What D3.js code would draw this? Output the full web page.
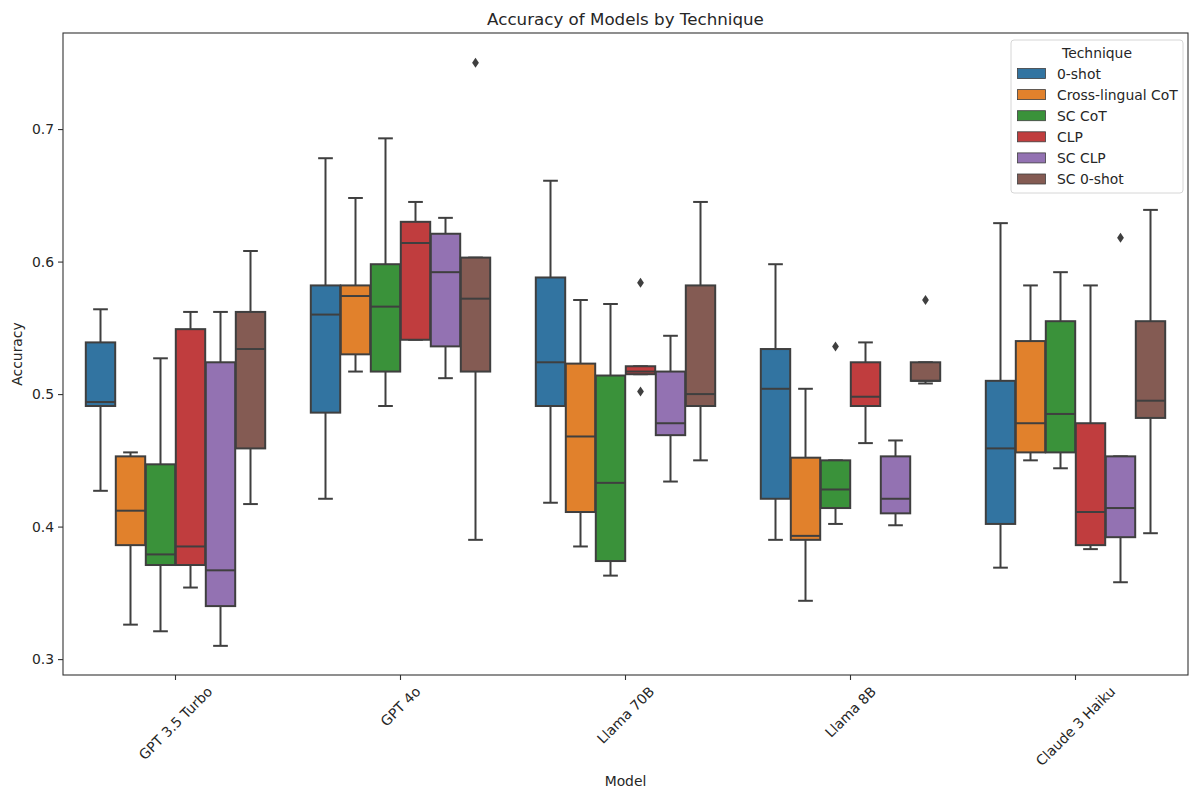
<!DOCTYPE html>
<html>
<head>
<meta charset="utf-8">
<script src="https://cdn.jsdelivr.net/npm/d3@7"></script>
<style>
  body { margin: 0; background: #fff; }
  text { font-family: "DejaVu Sans", sans-serif; fill: #262626; }
</style>
</head>
<body>
<div id="chart"></div>
<script>
// models on the x axis, techniques as hue
const models = ["GPT 3.5 Turbo", "GPT 4o", "Llama 70B", "Llama 8B", "Claude 3 Haiku"]
const techniques = ["0-shot", "Cross-lingual CoT", "SC CoT", "CLP", "SC CLP", "SC 0-shot"]
const colors = ["#3274a1", "#e1812c", "#3a923a", "#c03d3e", "#9372b2", "#845b53"]

// per model: [whisker low, Q1, median, Q3, whisker high]
const zeroShot = [[0.427, 0.491, 0.494, 0.539, 0.564], [0.421, 0.486, 0.560, 0.582, 0.678], [0.418, 0.491, 0.524, 0.588, 0.661], [0.390, 0.421, 0.504, 0.534, 0.598], [0.369, 0.402, 0.459, 0.510, 0.629]]
const crossCoT = [[0.326, 0.386, 0.412, 0.453, 0.456], [0.517, 0.530, 0.574, 0.582, 0.648], [0.385, 0.411, 0.468, 0.523, 0.571], [0.344, 0.390, 0.393, 0.452, 0.504], [0.450, 0.456, 0.478, 0.540, 0.582]]
const scCoT = [[0.321, 0.371, 0.379, 0.447, 0.527], [0.491, 0.517, 0.566, 0.598, 0.693], [0.363, 0.374, 0.433, 0.514, 0.568], [0.402, 0.414, 0.428, 0.450, 0.450], [0.444, 0.456, 0.485, 0.555, 0.592]]
const clp = [[0.354, 0.371, 0.385, 0.549, 0.562], [0.541, 0.541, 0.614, 0.630, 0.645], [0.515, 0.515, 0.517, 0.521, 0.521], [0.463, 0.491, 0.498, 0.524, 0.539], [0.383, 0.386, 0.411, 0.478, 0.582]]
const scClp = [[0.310, 0.340, 0.367, 0.524, 0.562], [0.512, 0.536, 0.592, 0.621, 0.633], [0.434, 0.469, 0.478, 0.517, 0.544], [0.401, 0.410, 0.421, 0.453, 0.465], [0.358, 0.392, 0.414, 0.453, 0.453]]
const scZero = [[0.417, 0.459, 0.534, 0.562, 0.608], [0.390, 0.517, 0.572, 0.603, 0.603], [0.450, 0.491, 0.500, 0.582, 0.645], [0.508, 0.510, 0.510, 0.524, 0.524], [0.395, 0.482, 0.495, 0.555, 0.639]]
const seriesStats = [zeroShot, crossCoT, scCoT, clp, scClp, scZero]

// outliers: [model, technique, value]
const outliers = [
    ["GPT 4o", "SC 0-shot", 0.750],
    ["Llama 70B", "CLP", 0.584],
    ["Llama 70B", "CLP", 0.502],
    ["Llama 8B", "SC CoT", 0.536],
    ["Llama 8B", "SC 0-shot", 0.571],
    ["Claude 3 Haiku", "SC CLP", 0.618]
]
const yTicks = [0.3, 0.4, 0.5, 0.6, 0.7]

const W = 1189, H = 793
const margin = { top: 33, right: 1, bottom: 118, left: 63 }
const lineColor = "#3f3f3f"

let svg = d3.select('#chart').append('svg')
    .attr('width', W)
    .attr('height', H)

let x = d3.scaleBand()
    .domain(models)
    .range([margin.left, W - margin.right])

let hue = d3.scaleBand()
    .domain(techniques)
    .range([x.bandwidth() * 0.1, x.bandwidth() * 0.9])

let y = d3.scaleLinear()
    .domain([0.288, 0.7725])
    .range([H - margin.bottom, margin.top])

let boxW = hue.bandwidth() * 0.98
let capW = boxW * 0.5

// flatten for drawing
let boxes = []
techniques.forEach(function (t, j) {
    models.forEach(function (m, i) {
        let s = seriesStats[j][i]
        boxes.push({ model: m, tech: t, color: colors[j], lo: s[0], q1: s[1], med: s[2], q3: s[3], hi: s[4] })
    })
})

let g = svg.append('g')

boxes.forEach(function (d) {
    let cx = x(d.model) + hue(d.tech) + hue.bandwidth() / 2
    let bg = g.append('g')
    // whiskers
    bg.append('line').attr('x1', cx).attr('x2', cx).attr('y1', y(d.q3)).attr('y2', y(d.hi))
    bg.append('line').attr('x1', cx).attr('x2', cx).attr('y1', y(d.q1)).attr('y2', y(d.lo))
    bg.append('line').attr('x1', cx - capW / 2).attr('x2', cx + capW / 2).attr('y1', y(d.hi)).attr('y2', y(d.hi))
    bg.append('line').attr('x1', cx - capW / 2).attr('x2', cx + capW / 2).attr('y1', y(d.lo)).attr('y2', y(d.lo))
    bg.selectAll('line').attr('stroke', lineColor).attr('stroke-width', 2)
    bg.append('rect')
        .attr('x', cx - boxW / 2)
        .attr('width', boxW)
        .attr('y', y(d.q3))
        .attr('height', Math.max(0.5, y(d.q1) - y(d.q3)))
        .attr('fill', d.color)
        .attr('stroke', lineColor)
        .attr('stroke-width', 2)
    bg.append('line')
        .attr('x1', cx - boxW / 2).attr('x2', cx + boxW / 2)
        .attr('y1', y(d.med)).attr('y2', y(d.med))
        .attr('stroke', lineColor).attr('stroke-width', 2)
})

// outlier diamonds
g.selectAll('.flier')
    .data(outliers)
    .enter()
    .append('path')
    .attr('d', 'M0,-5L3.4,0L0,5L-3.4,0Z')
    .attr('transform', function (d) {
        return 'translate(' + (x(d[0]) + hue(d[1]) + hue.bandwidth() / 2) + ',' + y(d[2]) + ')'
    })
    .attr('fill', lineColor)

// axes frame
svg.append('rect')
    .attr('x', margin.left).attr('y', margin.top)
    .attr('width', W - margin.right - margin.left)
    .attr('height', H - margin.bottom - margin.top)
    .attr('fill', 'none').attr('stroke', '#333').attr('stroke-width', 1.1)

// y axis
let yAxis = svg.append('g')
    .attr('transform', 'translate(' + margin.left + ',0)')
    .call(d3.axisLeft(y).tickValues(yTicks).tickFormat(d3.format('.1f')).tickSize(5).tickPadding(4))
yAxis.select('.domain').remove()
yAxis.selectAll('.tick line').attr('stroke', '#333').attr('stroke-width', 1.1)
yAxis.selectAll('.tick text').style('font-size', '13.9px').attr('fill', '#262626')

// x axis
let xAxis = svg.append('g')
    .attr('transform', 'translate(0,' + (H - margin.bottom) + ')')
    .call(d3.axisBottom(x).tickSize(5).tickFormat(''))
xAxis.select('.domain').remove()
xAxis.selectAll('.tick line').attr('stroke', '#333').attr('stroke-width', 1.1)

// rotated tick labels, centred on the tick
models.forEach(function (m) {
    let t = svg.append('text')
        .text(m)
        .style('font-size', '13.9px')
        .attr('text-anchor', 'middle')
        .attr('dominant-baseline', 'central')
    let w = t.node().getComputedTextLength()
    let bh = (w + 13.9) * Math.SQRT1_2
    t.attr('transform', 'translate(' + (x(m) + x.bandwidth() / 2) + ',' + (H - margin.bottom + 9 + bh / 2) + ') rotate(-45)')
})

// labels
svg.append('text')
    .attr('x', (margin.left + W - margin.right) / 2).attr('y', 25)
    .attr('text-anchor', 'middle')
    .style('font-size', '16.7px')
    .text('Accuracy of Models by Technique')

svg.append('text')
    .attr('x', (margin.left + W - margin.right) / 2).attr('y', 786)
    .attr('text-anchor', 'middle')
    .style('font-size', '13.9px')
    .text('Model')

svg.append('text')
    .attr('transform', 'translate(22,' + ((margin.top + H - margin.bottom) / 2) + ') rotate(-90)')
    .attr('text-anchor', 'middle')
    .style('font-size', '13.9px')
    .text('Accuracy')

// legend
let lg = svg.append('g').attr('transform', 'translate(1011,40)')
lg.append('rect')
    .attr('width', 172).attr('height', 153)
    .attr('rx', 3)
    .attr('fill', 'rgba(255,255,255,0.8)')
    .attr('stroke', '#d6d6d6')
lg.append('text')
    .attr('x', 86).attr('y', 13)
    .attr('text-anchor', 'middle')
    .attr('dominant-baseline', 'central')
    .style('font-size', '13.9px')
    .text('Technique')
techniques.forEach(function (t, j) {
    let cy = 33.5 + j * 21.1
    lg.append('rect')
        .attr('x', 6.5).attr('y', cy - 5)
        .attr('width', 28).attr('height', 10)
        .attr('fill', colors[j])
        .attr('stroke', lineColor).attr('stroke-width', 0.8)
    lg.append('text')
        .attr('x', 46).attr('y', cy)
        .attr('dominant-baseline', 'central')
        .style('font-size', '13.9px')
        .text(t)
})
</script>
</body>
</html>
